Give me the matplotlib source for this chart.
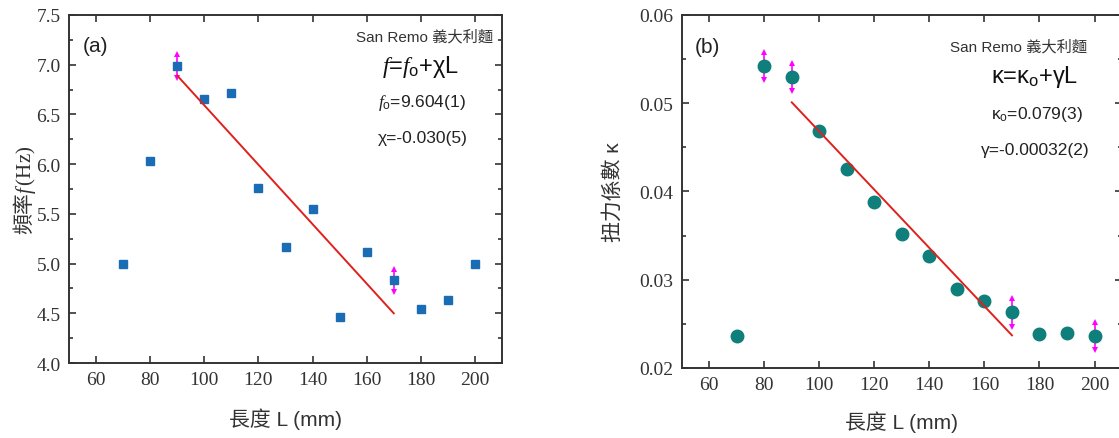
import numpy as np
import matplotlib
matplotlib.use('Agg')
import matplotlib.pyplot as plt
from matplotlib.ticker import MultipleLocator, FormatStrFormatter

plt.rcParams['font.family'] = ['Liberation Sans', 'Noto Sans CJK TC']
plt.rcParams['mathtext.fontset'] = 'custom'
plt.rcParams['mathtext.rm'] = 'Liberation Sans'
plt.rcParams['mathtext.it'] = 'Liberation Serif:italic'
plt.rcParams['mathtext.bf'] = 'Liberation Serif'   # used for upright serif "(Hz)"

# data
L = [70, 80, 90, 100, 110, 120, 130, 140, 150, 160, 170, 180, 190, 200]
freq = [5.00, 6.03, 6.99, 6.66, 6.72, 5.76, 5.17, 5.55, 4.46, 5.12, 4.83, 4.54, 4.63, 5.00]
kappa = [0.0236, 0.0542, 0.0530, 0.0468, 0.0425, 0.0388, 0.0352, 0.0327,
         0.0289, 0.0276, 0.0263, 0.0238, 0.0240, 0.0236]

fit_L = [90, 170]
fit_freq = [6.89, 4.50]
fit_kappa = [0.0501, 0.0237]

err_L_a = [90, 170]
err_freq = [0.12, 0.12]
err_L_b = [80, 90, 170, 200]
err_kappa = [0.0016, 0.0016, 0.0016, 0.0016]

blue = '#1a6db5'
teal = '#0e7f7a'
red = '#e0201c'
mag = '#ff00ff'
dark = '#333333'

fig = plt.figure(figsize=(11.19, 4.39), dpi=100)
ax1 = fig.add_axes([0.0617, 0.1708, 0.3869, 0.7928])
ax2 = fig.add_axes([0.6092, 0.1595, 0.3935, 0.8041])


def style(ax):
    for s in ax.spines.values():
        s.set_linewidth(1.4)
        s.set_color(dark)
    ax.tick_params(which='both', direction='in', top=True, right=True,
                   color=dark, width=1.2)
    ax.tick_params(which='major', length=5, labelsize=14, labelcolor=dark, pad=6)
    ax.tick_params(which='minor', length=3)
    for lab in ax.get_xticklabels() + ax.get_yticklabels():
        lab.set_family('Liberation Serif')
    ax.set_xlim(50, 210)
    ax.xaxis.set_major_locator(MultipleLocator(20))


def arrows(ax, x, y, e, size):
    y = np.array(y)
    e = np.array(e)
    ax.errorbar(x, y, yerr=e, fmt='none', ecolor=mag, elinewidth=1.2, capsize=0, zorder=2)
    ax.plot(x, y + e, '^', color=mag, ms=size, mew=0, zorder=2)
    ax.plot(x, y - e, 'v', color=mag, ms=size, mew=0, zorder=2)


# (a)
ax1.set_ylim(4.0, 7.5)
ax1.yaxis.set_major_locator(MultipleLocator(0.5))
ax1.yaxis.set_minor_locator(MultipleLocator(0.25))
ax1.yaxis.set_major_formatter(FormatStrFormatter('%.1f'))
arrows(ax1, err_L_a, [freq[L.index(v)] for v in err_L_a], err_freq, 4)
ax1.plot(L, freq, 's', color=blue, ms=5.5, zorder=3)
ax1.plot(fit_L, fit_freq, '-', color=red, lw=1.4, zorder=4)
style(ax1)
ax1.set_xlabel('長度 L (mm)', fontsize=15, color=dark, labelpad=14)
ax1.set_ylabel('頻率$\\mathit{f}\\,\\mathbf{(Hz)}$', fontsize=15, color=dark, labelpad=-1,
               family='Noto Sans CJK TC')

ax1.text(0.032, 0.911, '(a)', transform=ax1.transAxes, fontsize=15,
         ha='left', va='center', color='#222222')
ax1.text(0.979, 0.940, 'San Remo 義大利麵', transform=ax1.transAxes, fontsize=11,
         ha='right', va='center', color='#333333')
ax1.text(0.813, 0.853, '$\\mathit{f}$=$\\mathit{f}_\\mathrm{o}$+χL', transform=ax1.transAxes,
         fontsize=17, ha='center', va='center', color='#111111')
ax1.text(0.815, 0.750, '$\\mathit{f}_\\mathrm{o}$=9.604(1)', transform=ax1.transAxes,
         fontsize=12.5, ha='center', va='center', color='#222222')
ax1.text(0.818, 0.649, 'χ=-0.030(5)', transform=ax1.transAxes,
         fontsize=12.5, ha='center', va='center', color='#222222')

# (b)
ax2.set_ylim(0.02, 0.06)
ax2.yaxis.set_major_locator(MultipleLocator(0.01))
ax2.yaxis.set_minor_locator(MultipleLocator(0.005))
ax2.yaxis.set_major_formatter(FormatStrFormatter('%.2f'))
arrows(ax2, err_L_b, [kappa[L.index(v)] for v in err_L_b], err_kappa, 4.5)
ax2.plot(L, kappa, 'o', color=teal, ms=9, zorder=3)
ax2.plot(fit_L, fit_kappa, '-', color=red, lw=1.4, zorder=4)
style(ax2)
ax2.set_xlabel('長度 L (mm)', fontsize=15, color=dark, labelpad=12)
ax2.set_ylabel('扭力係數 κ', fontsize=15, color=dark, labelpad=12)

ax2.text(0.030, 0.912, '(b)', transform=ax2.transAxes, fontsize=15,
         ha='left', va='center', color='#222222')
ax2.text(0.921, 0.912, 'San Remo 義大利麵', transform=ax2.transAxes, fontsize=11,
         ha='right', va='center', color='#333333')
ax2.text(0.802, 0.827, 'κ=κ$_\\mathrm{o}$+γL', transform=ax2.transAxes,
         fontsize=17, ha='center', va='center', color='#111111')
ax2.text(0.807, 0.720, 'κ$_\\mathrm{o}$=0.079(3)', transform=ax2.transAxes,
         fontsize=12.5, ha='center', va='center', color='#222222')
ax2.text(0.802, 0.620, 'γ=-0.00032(2)', transform=ax2.transAxes,
         fontsize=12.5, ha='center', va='center', color='#222222')

fig.savefig('out.png', dpi=100)
